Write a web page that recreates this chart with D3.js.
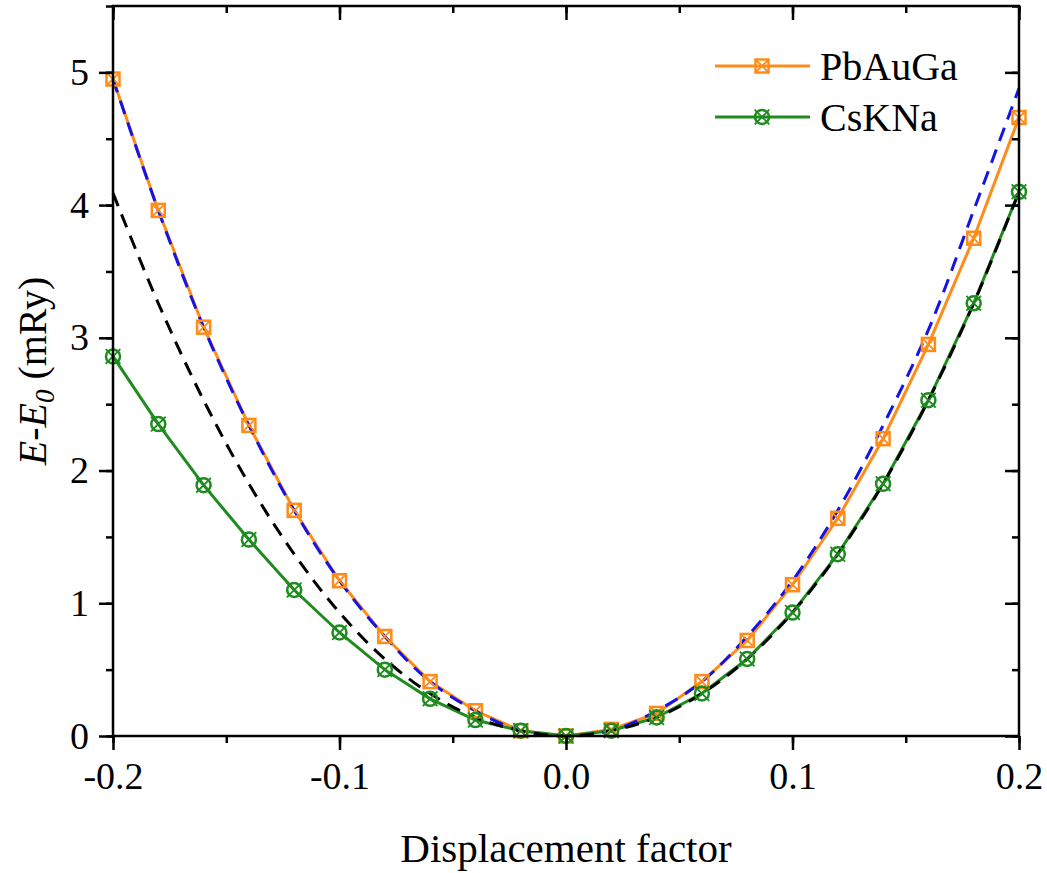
<!DOCTYPE html>
<html>
<head>
<meta charset="utf-8">
<script src="https://cdn.jsdelivr.net/npm/d3@7"></script>
<style>
  html, body { margin: 0; padding: 0; background: #fff; }
  svg { display: block; }
</style>
</head>
<body>
<svg id="chart" width="1047" height="873"></svg>
<script>
// ---- data ----
const displacement = [-0.20,-0.18,-0.16,-0.14,-0.12,-0.10,-0.08,-0.06,-0.04,-0.02,0.00,0.02,0.04,0.06,0.08,0.10,0.12,0.14,0.16,0.18,0.20];
const pbAuGa = [4.95,3.96,3.08,2.34,1.70,1.17,0.75,0.41,0.19,0.04,0.00,0.05,0.17,0.41,0.72,1.14,1.64,2.24,2.95,3.75,4.66];
const csKNa  = [2.86,2.35,1.89,1.48,1.10,0.78,0.50,0.28,0.12,0.04,0.00,0.04,0.14,0.32,0.58,0.93,1.37,1.90,2.53,3.26,4.10];
const blueFit  = [4.95,3.96,3.08,2.34,1.70,1.17,0.75,0.41,0.19,0.04,0.00,0.04,0.19,0.41,0.75,1.17,1.70,2.34,3.06,3.96,4.88];
const blackFit = [4.09,3.26,2.53,1.90,1.37,0.93,0.58,0.32,0.14,0.04,0.00,0.04,0.14,0.32,0.58,0.93,1.37,1.90,2.53,3.26,4.10];
const xTicks = [-0.2,-0.1,0.0,0.1,0.2];
const xTickLabels = ["-0.2","-0.1","0.0","0.1","0.2"];
const yTicks = [0,1,2,3,4,5];
const yTickLabels = ["0","1","2","3","4","5"];
const seriesNames = ["PbAuGa","CsKNa"];

const FONT = '"Liberation Serif", Tinos, "Times New Roman", serif';

// ---- layout ----
const L = 113, R = 1019, T = 6, B = 736;
const svg = d3.select("#chart").style("font-family", FONT);
const x = d3.scaleLinear().domain([-0.2, 0.2]).range([L, R]);
const y = d3.scaleLinear().domain([0, 5.5]).range([B, T]);

const ORANGE = "#FF8C1A", GREEN = "#1E8C1E", BLUE = "#1414E6", BLACK = "#000";

// ---- lines ----
const lineStraight = d3.line().x((d,i)=>x(displacement[i])).y(d=>y(d));
const lineSmooth = d3.line().x((d,i)=>x(displacement[i])).y(d=>y(d)).curve(d3.curveCatmullRom.alpha(0.5));

const plot = svg.append("g");
plot.append("path").datum(pbAuGa).attr("d", lineStraight)
  .attr("fill","none").attr("stroke",ORANGE).attr("stroke-width",3);
plot.append("path").datum(csKNa).attr("d", lineStraight)
  .attr("fill","none").attr("stroke",GREEN).attr("stroke-width",3);

// markers
function squareX(g, cx, cy, s, color) {
  g.append("rect").attr("x",cx-s/2).attr("y",cy-s/2).attr("width",s).attr("height",s)
    .attr("fill","none").attr("stroke",color).attr("stroke-width",2.5);
  g.append("path").attr("d",`M${cx-s/2},${cy-s/2}L${cx+s/2},${cy+s/2}M${cx+s/2},${cy-s/2}L${cx-s/2},${cy+s/2}`)
    .attr("stroke",color).attr("stroke-width",1.8);
}
function circleX(g, cx, cy, r, color) {
  g.append("circle").attr("cx",cx).attr("cy",cy).attr("r",r)
    .attr("fill","none").attr("stroke",color).attr("stroke-width",2.5);
  const e = r*1.05;
  g.append("path").attr("d",`M${cx-e},${cy-e}L${cx+e},${cy+e}M${cx+e},${cy-e}L${cx-e},${cy+e}`)
    .attr("stroke",color).attr("stroke-width",1.8);
}
const mk = svg.append("g");
pbAuGa.forEach((v,i)=>squareX(mk, x(displacement[i]), y(v), 13, ORANGE));
csKNa.forEach((v,i)=>circleX(mk, x(displacement[i]), y(v), 7, GREEN));

// dashed fits
plot.append("path").datum(blueFit).attr("d", lineSmooth)
  .attr("fill","none").attr("stroke",BLUE).attr("stroke-width",3).attr("stroke-dasharray","14,9");
plot.append("path").datum(blackFit).attr("d", lineSmooth)
  .attr("fill","none").attr("stroke",BLACK).attr("stroke-width",3).attr("stroke-dasharray","14,9");

// ---- axes ----
const fmt = (arr, ticks) => (d => { const i = ticks.indexOf(d); return i>=0 ? arr[i] : ""; });
const xMinor = d3.range(-0.2, 0.2001, 0.05).map(v=>+v.toFixed(2));
const yMinor = d3.range(0, 5.5001, 0.5).map(v=>+v.toFixed(1));

function styleAxis(g) {
  g.selectAll(".domain").remove();
  g.attr("font-family", null).attr("font-size", null);
  g.selectAll("g").attr("font-family", null).attr("font-size", null);
  g.selectAll("line").attr("stroke","#000").attr("stroke-width",2.5);
  g.selectAll("text").attr("fill","#000").style("font-size","38px").style("font-family", FONT);
}
// bottom
const gx = svg.append("g").attr("transform",`translate(0,${B})`);
gx.call(d3.axisBottom(x).tickValues(xMinor).tickSize(7).tickFormat(""));
gx.call(g=>g.append("g").call(d3.axisBottom(x).tickValues(xTicks).tickSize(14).tickPadding(12).tickFormat(fmt(xTickLabels,xTicks))));
styleAxis(gx);
// top (inward)
const gxt = svg.append("g").attr("transform",`translate(0,${T})`);
gxt.call(d3.axisBottom(x).tickValues(xMinor).tickSize(7).tickFormat(""));
gxt.call(g=>g.append("g").call(d3.axisBottom(x).tickValues(xTicks).tickSize(14).tickFormat("")));
styleAxis(gxt);
// left
const gy = svg.append("g").attr("transform",`translate(${L},0)`);
gy.call(d3.axisLeft(y).tickValues(yMinor).tickSize(7).tickFormat(""));
gy.call(g=>g.append("g").call(d3.axisLeft(y).tickValues(yTicks).tickSize(14).tickPadding(10).tickFormat(fmt(yTickLabels,yTicks))));
styleAxis(gy);
// right (inward)
const gyr = svg.append("g").attr("transform",`translate(${R},0)`);
gyr.call(d3.axisLeft(y).tickValues(yMinor).tickSize(7).tickFormat(""));
gyr.call(g=>g.append("g").call(d3.axisLeft(y).tickValues(yTicks).tickSize(14).tickFormat("")));
styleAxis(gyr);

// frame
svg.append("rect").attr("x",L).attr("y",T).attr("width",R-L).attr("height",B-T)
  .attr("fill","none").attr("stroke","#000").attr("stroke-width",2.5);

// ---- titles ----
svg.append("text").attr("x",(L+R)/2).attr("y",862).attr("text-anchor","middle")
  .style("font-family", FONT).style("font-size","41px").text("Displacement factor");

const yt = svg.append("text").attr("transform","translate(46,371) rotate(-90)")
  .attr("text-anchor","middle").style("font-family", FONT).style("font-size","40px");
yt.append("tspan").style("font-style","italic").text("E");
yt.append("tspan").text("-");
yt.append("tspan").style("font-style","italic").text("E");
yt.append("tspan").style("font-style","italic").style("font-size","27px").attr("dy",8).text("0");
yt.append("tspan").attr("dy",-8).text(" (mRy)");

// ---- legend ----
const leg = svg.append("g");
const legY = [66, 117];
const legColors = [ORANGE, GREEN];
seriesNames.forEach((name,i)=>{
  leg.append("line").attr("x1",715).attr("x2",810).attr("y1",legY[i]).attr("y2",legY[i])
    .attr("stroke",legColors[i]).attr("stroke-width",3);
  if (i===0) squareX(leg, 762, legY[i], 13, ORANGE); else circleX(leg, 762, legY[i], 7, GREEN);
  leg.append("text").attr("x",820).attr("y",legY[i]+14).style("font-family", FONT).style("font-size","40px").text(name);
});
</script>
</body>
</html>
